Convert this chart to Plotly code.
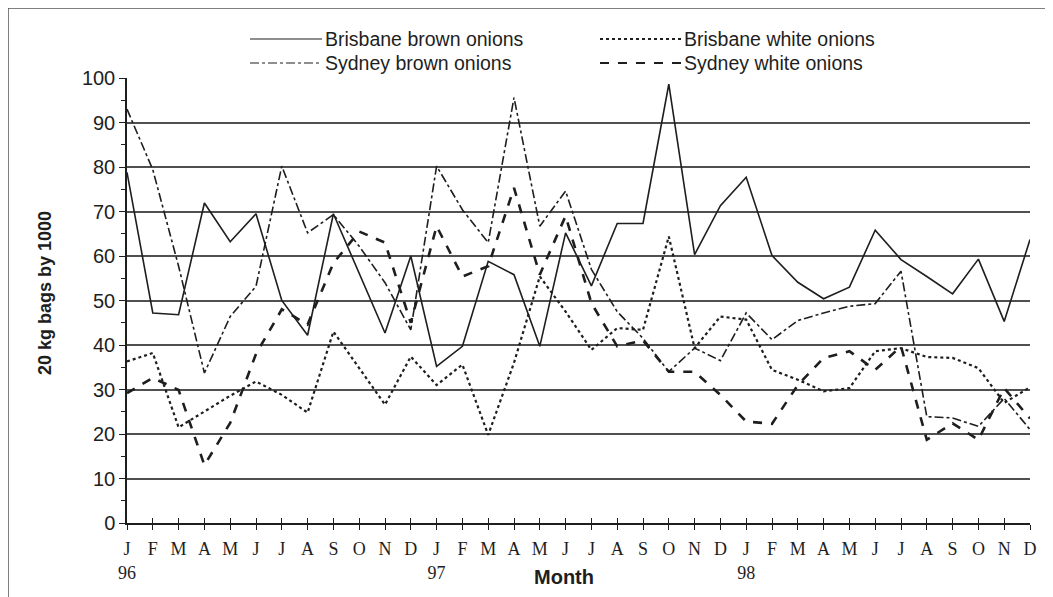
import plotly.graph_objects as go

months = ["J", "F", "M", "A", "M", "J", "J", "A", "S", "O", "N", "D"] * 3
years = {0: "96", 12: "97", 24: "98"}
tick_text = [m + ("<br>" + years[i] if i in years else "") for i, m in enumerate(months)]
month_idx = list(range(len(months)))

brisbane_brown = [78.8, 47.2, 46.8, 71.9, 63.2, 69.5, 50.0, 42.2, 69.5, 56.0, 42.7, 60.0,
                  35.2, 39.7, 58.8, 55.8, 39.7, 65.2, 53.3, 67.3, 67.3, 98.6, 60.3, 71.3,
                  77.7, 60.1, 54.1, 50.4, 53.0, 65.8, 59.2, 55.4, 51.5, 59.3, 45.3, 63.7]
brisbane_white = [36.3, 38.2, 21.5, 25.0, 28.6, 31.8, 28.8, 24.8, 43.0, 34.8, 26.6, 37.4,
                  31.0, 35.6, 19.8, 36.0, 55.4, 47.5, 38.9, 43.8, 43.4, 64.4, 39.3, 46.4,
                  45.7, 34.4, 32.2, 29.6, 30.3, 38.6, 39.3, 37.3, 37.1, 34.8, 27.0, 30.5]
sydney_brown = [93.0, 79.4, 57.7, 33.7, 46.4, 53.2, 80.2, 65.2, 69.3, 62.2, 54.0, 43.4,
                80.2, 70.4, 63.0, 95.6, 66.7, 74.6, 57.0, 47.5, 41.5, 34.0, 39.3, 36.5,
                47.2, 41.2, 45.5, 47.2, 48.7, 49.3, 56.6, 23.9, 23.6, 21.7, 28.0, 21.0]
sydney_white = [29.2, 32.6, 29.9, 13.0, 22.5, 38.0, 48.0, 44.6, 58.4, 65.5, 63.0, 45.0,
                66.7, 55.4, 57.7, 75.3, 55.8, 69.0, 49.4, 39.7, 41.0, 34.0, 34.0, 28.8,
                22.8, 22.3, 31.0, 37.1, 38.6, 34.4, 39.7, 18.7, 22.4, 18.7, 30.3, 23.5]

series = [
    ("Brisbane brown onions", brisbane_brown, 1.6, "solid"),
    ("Brisbane white onions", brisbane_white, 2.2, "dot"),
    ("Sydney brown onions", sydney_brown, 1.6, "dashdot"),
    ("Sydney white onions", sydney_white, 2.6, "dash"),
]

INK = "#1e1e1e"
SANS = "Liberation Sans, Arial, sans-serif"
SERIF = "Liberation Serif, Times New Roman, serif"

fig = go.Figure()
for name, vals, w, dash in series:
    fig.add_trace(go.Scatter(x=month_idx, y=vals, mode="lines", name=name,
                             line=dict(color=INK, width=w, dash=dash)))
# invisible helper so the overlaid tick axis (inner half of crossing ticks) is drawn
fig.add_trace(go.Scatter(x=month_idx, y=brisbane_brown, xaxis="x2", mode="lines",
                         line=dict(width=0), opacity=0, showlegend=False, hoverinfo="skip"))

# the page body adds an 8px offset; target page positions are converted below
OFF = 8
W, H = 1053 - OFF, 597 - OFF
PL, PR, PT, PB = 127, 1030, 78, 523   # plot area in page pixels
L, T = PL - OFF, PT - OFF
R, B = W - (PR - OFF), H - (PB - OFF)
pw, ph = PR - PL, PB - PT

def px(xp):
    return (xp - PL) / pw

def py(yp):
    return (PB - yp) / ph

# manual legend: two rows, two columns
legend_slots = [(250, 322, 39), (600, 681, 39), (250, 322, 63), (600, 681, 63)]
shapes = [
    dict(type="rect", xref="paper", yref="paper", x0=px(8), x1=px(1046), y0=py(640), y1=py(8),
         line=dict(color="#555555", width=1.5), fillcolor="rgba(0,0,0,0)", layer="below"),
]
annotations = []
for (name, vals, w, dash), (xa, xb, yy) in zip(series, legend_slots):
    shapes.append(dict(type="line", xref="paper", yref="paper", x0=px(xa), x1=px(xb),
                       y0=py(yy), y1=py(yy), line=dict(color=INK, width=max(w - 0.4, 1.2), dash=dash)))
    annotations.append(dict(text=name, xref="paper", yref="paper", x=px(xb + 1), y=py(yy),
                            showarrow=False, xanchor="left", yanchor="middle",
                            font=dict(family=SANS, size=19.5, color=INK)))

annotations += [
    dict(text="<b>Month</b>", xref="paper", yref="paper", x=px(564), y=py(577),
         showarrow=False, xanchor="center", yanchor="middle",
         font=dict(family=SANS, size=20, color=INK)),
    dict(text="<b>20 kg bags by 1000</b>", xref="paper", yref="paper", x=px(45), y=py(293),
         showarrow=False, textangle=-90, xanchor="center", yanchor="middle",
         font=dict(family=SANS, size=18, color=INK)),
]

fig.update_layout(
    width=W, height=H,
    margin=dict(l=L, r=R, t=T, b=B, pad=0, autoexpand=False),
    paper_bgcolor="white", plot_bgcolor="white",
    showlegend=False,
    xaxis=dict(range=[0, 35], tickmode="array", tickvals=month_idx, ticktext=tick_text,
               ticks="outside", ticklen=5, tickwidth=1, tickcolor=INK, ticklabelstandoff=4,
               showline=True, linecolor=INK, linewidth=1.5, showgrid=False, zeroline=False,
               tickfont=dict(family=SERIF, size=18, color=INK)),
    xaxis2=dict(range=[0, 35], overlaying="x", matches="x", side="bottom", anchor="y",
                tickmode="array", tickvals=month_idx, ticks="inside", ticklen=5, tickwidth=1,
                tickcolor=INK, showticklabels=False, showgrid=False, zeroline=False, showline=False),
    yaxis=dict(range=[0, 100], dtick=10, ticks="outside", ticklen=6, tickwidth=1, tickcolor=INK,
               minor=dict(dtick=5, ticks="outside", ticklen=4, tickcolor=INK, showgrid=False),
               showline=True, linecolor=INK, linewidth=1.5, showgrid=True, gridcolor="#505050",
               gridwidth=1.5, zeroline=False,
               tickfont=dict(family=SANS, size=20, color=INK)),
    annotations=annotations,
    shapes=shapes,
)

fig.write_html("out.html")
